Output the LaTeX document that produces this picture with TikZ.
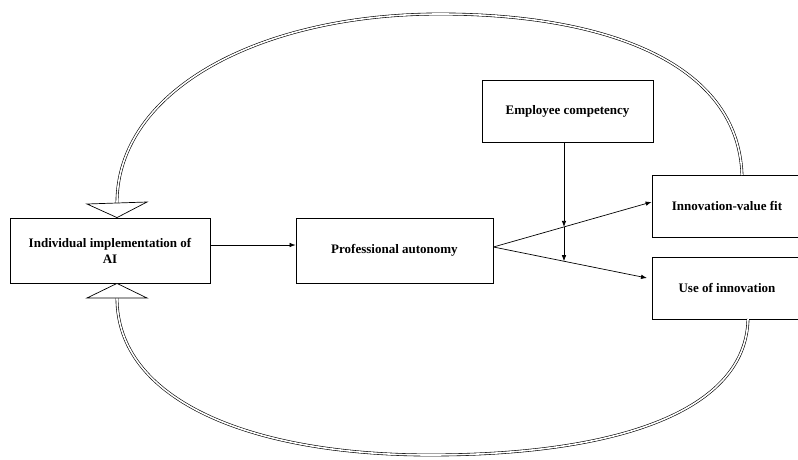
\documentclass[tikz,border=0pt]{standalone}
\usepackage{fontspec}
\setmainfont{Liberation Serif}
\usetikzlibrary{arrows.meta,intersections,calc}
\begin{document}
\begin{tikzpicture}[x=1pt,y=-1pt,
  box/.style={draw,line width=0.8pt,rectangle,minimum width=#1,inner sep=2pt,font=\bfseries\fontsize{13}{16}\selectfont,align=center},
  arr/.style={line width=0.7pt,-{Latex[length=6pt,width=4.5pt]}},
  dbl/.style={double,double distance=1.6pt,line width=0.6pt},
  hollow/.style={draw,line width=0.7pt,fill=white}]
\useasboundingbox (0,0) rectangle (798,460);
\node[box=200pt,minimum height=65pt] (ind) at (110,250.5) {Individual implementation of\\AI};
\node[box=197pt,minimum height=65pt] (pa) at (394.5,250.5) {Professional autonomy};
\node[box=171pt,minimum height=62pt] (ec) at (567.5,111) {Employee competency};
\node[box=150pt,minimum height=62pt] (ivf) at (727,206) {Innovation-value fit};
\node[box=150pt,minimum height=62pt] (uoi) at (727,288) {Use of innovation};
\draw[arr] (ind.east |- 0,245) -- (pa.west |- 0,245);
\coordinate (o) at (pa.east |- 0,247);
\coordinate (t1) at (ivf.west |- 0,202);
\coordinate (t2) at (647,278);
\draw[arr,name path=up] (o) -- (t1);
\draw[arr,name path=low] (o) -- (t2);
\path[name path=vl] (564,142) -- (564,320);
\path[name intersections={of=vl and up,by=i1}];
\path[name intersections={of=vl and low,by=i2}];
\draw[arr] (ec.south -| 564,0) -- (i1);
\draw[arr] (i1) -- (i2);
% feedback arcs
\coordinate (a1) at (742,175);
\coordinate (a2) at (117,203);
\draw[dbl] (a1) .. controls (738,60) and (600,14) .. (440,14)
  .. controls (260,14) and (117,90) .. (a2);
\draw[hollow] (87,204) -- (147,202) -- (ind.north -| 117,0) -- cycle;
\coordinate (b1) at (748,319);
\coordinate (b2) at (117,298);
\draw[dbl] (b1) .. controls (746,410) and (620,455) .. (430,455)
  .. controls (250,455) and (117,400) .. (b2);
\draw[hollow] (87,298) -- (147,298) -- (ind.south -| 117,0) -- cycle;
\end{tikzpicture}
\end{document}
